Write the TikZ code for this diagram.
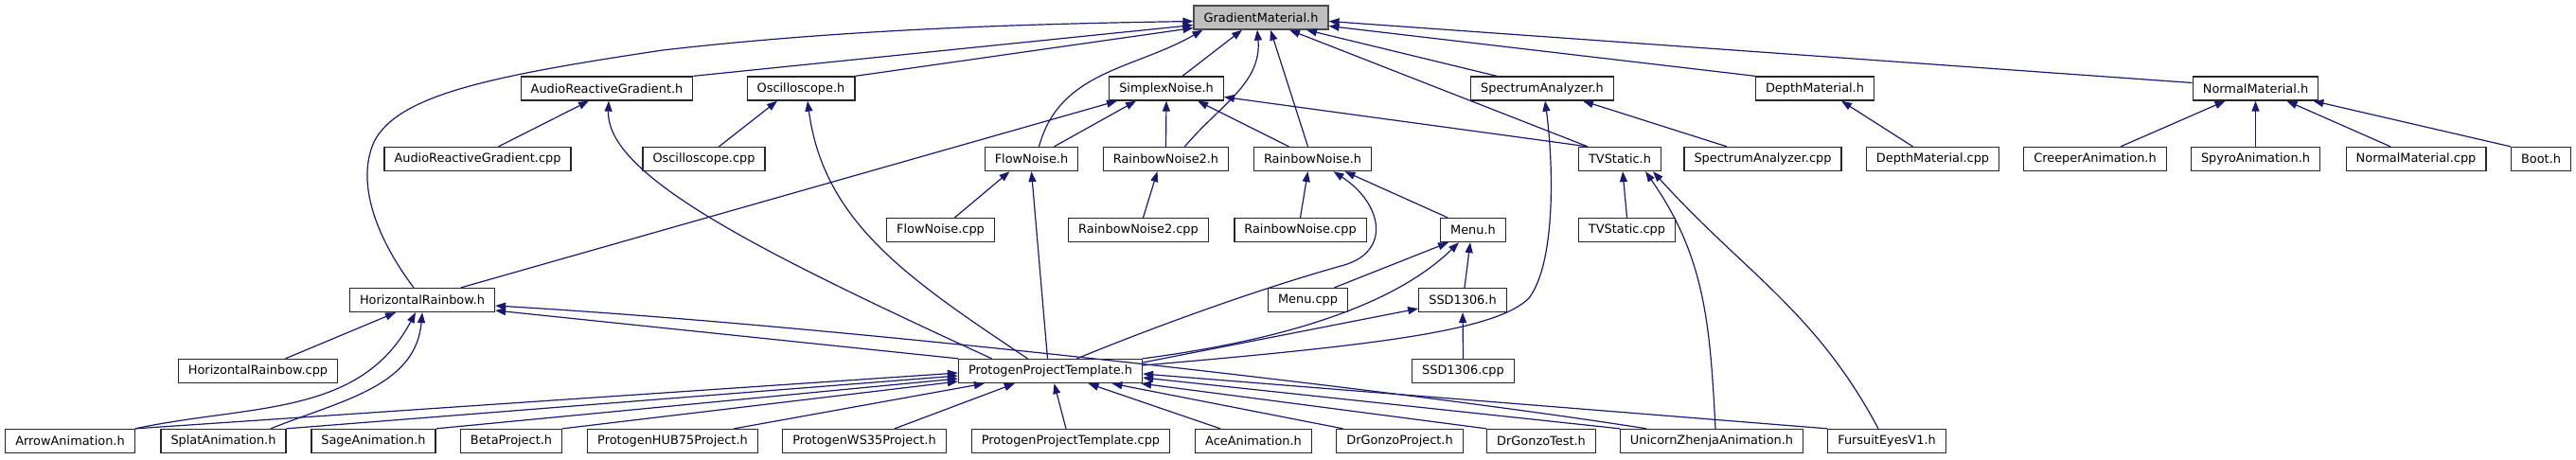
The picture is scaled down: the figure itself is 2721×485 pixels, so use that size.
\documentclass[tikz,border=0pt]{standalone}
\usepackage{fontspec}
\setmainfont{DejaVu Sans}
\usetikzlibrary{arrows.meta}

\definecolor{edgeblue}{HTML}{191970}
\definecolor{rootgray}{HTML}{BFBFBF}

\begin{document}
\begin{tikzpicture}[
    x=1pt, y=1pt,
    file/.style={draw=black!85, fill=white, line width=1.3pt, rectangle,
        minimum height=25pt, inner xsep=10.5pt, inner ysep=0pt,
        font=\fontsize{12.9}{15}\selectfont},
    root/.style={file, fill=rootgray, draw=black!70},
    dep/.style={draw=edgeblue, line width=1.2pt,
        -{Triangle[length=11pt,width=8pt]}},
]
\useasboundingbox (0,0) rectangle (2721,485);

% Root header
\node[root] (gm) at (1332,466.5) {GradientMaterial.h};

% Row 2
\node[file] (argh) at (641,391.5)    {AudioReactiveGradient.h};
\node[file] (osch) at (846,391.5)    {Oscilloscope.h};
\node[file] (sn)   at (1232,391.5)   {SimplexNoise.h};
\node[file] (sa)   at (1629,391.5)   {SpectrumAnalyzer.h};
\node[file] (dm)   at (1917,391.5)   {DepthMaterial.h};
\node[file] (nm)   at (2382.5,391.5) {NormalMaterial.h};

% Row 3
\node[file] (argcpp)  at (504.5,317)  {AudioReactiveGradient.cpp};
\node[file] (osccpp)  at (743.5,317)  {Oscilloscope.cpp};
\node[file] (fn)      at (1089.5,317) {FlowNoise.h};
\node[file] (rn2)     at (1231.5,317) {RainbowNoise2.h};
\node[file] (rn)      at (1386.5,317) {RainbowNoise.h};
\node[file] (tv)      at (1711,317)   {TVStatic.h};
\node[file] (sacpp)   at (1862,317)   {SpectrumAnalyzer.cpp};
\node[file] (dmcpp)   at (2041.5,317) {DepthMaterial.cpp};
\node[file] (creeper) at (2213,317)   {CreeperAnimation.h};
\node[file] (spyro)   at (2382.5,317) {SpyroAnimation.h};
\node[file] (nmcpp)   at (2552,317)   {NormalMaterial.cpp};
\node[file] (boot)    at (2684,317)   {Boot.h};

% Row 4
\node[file] (fncpp)  at (993.5,242)  {FlowNoise.cpp};
\node[file] (rn2cpp) at (1202.5,242) {RainbowNoise2.cpp};
\node[file] (rncpp)  at (1373.5,242) {RainbowNoise.cpp};
\node[file] (menu)   at (1556,242)   {Menu.h};
\node[file] (tvcpp)  at (1718.5,242) {TVStatic.cpp};

% Row 5
\node[file] (hr)      at (446,168)    {HorizontalRainbow.h};
\node[file] (menucpp) at (1381.5,168) {Menu.cpp};
\node[file] (ssd)     at (1545,168)   {SSD1306.h};

% Row 6
\node[file] (hrcpp)  at (272.5,93)  {HorizontalRainbow.cpp};
\node[file] (ppt)    at (1109.5,93) {ProtogenProjectTemplate.h};
\node[file] (ssdcpp) at (1545.5,93) {SSD1306.cpp};

% Row 7
\node[file] (arrow)   at (74,19)     {ArrowAnimation.h};
\node[file] (splat)   at (236,19)    {SplatAnimation.h};
\node[file] (sage)    at (394.5,19)  {SageAnimation.h};
\node[file] (beta)    at (540,19)    {BetaProject.h};
\node[file] (hub)     at (710.5,19)  {ProtogenHUB75Project.h};
\node[file] (ws)      at (913,19)    {ProtogenWS35Project.h};
\node[file] (pptcpp)  at (1131,19)   {ProtogenProjectTemplate.cpp};
\node[file] (ace)     at (1324,19)   {AceAnimation.h};
\node[file] (drgp)    at (1478.5,19) {DrGonzoProject.h};
\node[file] (drgt)    at (1628,19)   {DrGonzoTest.h};
\node[file] (uza)     at (1808,19)   {UnicornZhenjaAnimation.h};
\node[file] (fursuit) at (1993,19)   {FursuitEyesV1.h};

% Into GradientMaterial.h
\draw[dep] ([xshift=-9pt]hr.north) .. controls (400,230) and (375,290) .. (395,335)
    .. controls (420,385) and (520,405) .. (700,432)
    .. controls (900,455) and (1100,460) .. ([yshift=-4pt]gm.west);
\draw[dep] (argh.north east) -- ([yshift=-8pt]gm.west);
\draw[dep] (osch.north east) -- ([yshift=-11pt]gm.west);
\draw[dep] ([xshift=8pt]fn.north) to[out=75,in=-150] ([xshift=10pt]gm.south west);
\draw[dep] ([xshift=17pt]sn.north) -- ([xshift=-20pt]gm.south);
\draw[dep] ([xshift=20pt]rn2.north) to[out=50,in=-85] ([xshift=-4pt]gm.south);
\draw[dep] ([xshift=-5pt]rn.north) -- ([xshift=10pt]gm.south);
\draw[dep] ([xshift=-34pt]tv.north) -- ([xshift=30pt]gm.south);
\draw[dep] ([xshift=-48pt]sa.north) -- ([xshift=48pt]gm.south);
\draw[dep] (dm.north west) -- ([yshift=-9pt]gm.east);
\draw[dep] ([yshift=6pt]nm.west) -- ([yshift=-4pt]gm.east);

% Into row 2 headers
\draw[dep] ([xshift=22pt]argcpp.north) -- ([xshift=-19pt]argh.south);
\draw[dep] ([xshift=-62pt]ppt.north) .. controls (800,220) and (640,300) .. ([xshift=2pt]argh.south);
\draw[dep] ([xshift=16pt]osccpp.north) -- ([xshift=-25pt]osch.south);
\draw[dep] ([xshift=-24pt]ppt.north) .. controls (960,190) and (870,250) .. ([xshift=7pt]osch.south);
\draw[dep] ([xshift=24pt]fn.north) -- ([xshift=-32pt]sn.south);
\draw[dep] (rn2.north) -- (sn.south);
\draw[dep] ([xshift=-25pt]rn.north) -- ([xshift=33pt]sn.south);
\draw[dep] ([xshift=-34pt]tv.north) -- ([yshift=-9pt]sn.east);
\draw[dep] ([xshift=41pt]hr.north) -- ([xshift=-52pt]sn.south);
\draw[dep] ([xshift=-38pt]sacpp.north) -- ([xshift=43pt]sa.south);
\draw[dep] ([yshift=6pt]ppt.east) .. controls (1450,120) and (1580,135) .. (1615,170)
    .. controls (1645,210) and (1640,320) .. ([xshift=3pt]sa.south);
\draw[dep] ([xshift=-21pt]dmcpp.north) -- ([xshift=28pt]dm.south);
\draw[dep] ([xshift=27pt]creeper.north) -- ([xshift=-32pt]nm.south);
\draw[dep] (spyro.north) -- (nm.south);
\draw[dep] ([xshift=-27pt]nmcpp.north) -- ([xshift=33pt]nm.south);
\draw[dep] (boot.north west) -- ([xshift=-6pt]nm.south east);

% Into row 3 headers
\draw[dep] ([xshift=15pt]fncpp.north) -- ([xshift=-23pt]fn.south);
\draw[dep] ([xshift=-3pt]ppt.north) -- (fn.south);
\draw[dep] ([xshift=5pt]rn2cpp.north) -- ([xshift=-9pt]rn2.south);
\draw[dep] (rncpp.north) -- ([xshift=-5pt]rn.south);
\draw[dep] ([xshift=-27pt]menu.north) -- ([xshift=34pt]rn.south);
\draw[dep] ([xshift=28pt]ppt.north) .. controls (1220,140) and (1330,180) .. (1420,205)
    .. controls (1470,220) and (1460,270) .. ([xshift=22pt]rn.south);
\draw[dep] (tvcpp.north) -- ([xshift=3pt]tv.south);
\draw[dep] ([xshift=4pt]uza.north) to[out=93,in=-55] ([xshift=27pt]tv.south);
\draw[dep] ([xshift=-9pt]fursuit.north) to[out=118,in=-48] ([xshift=35pt]tv.south);

% Menu.h and SSD1306.h
\draw[dep] ([xshift=28pt]menucpp.north) -- ([xshift=-26pt]menu.south);
\draw[dep] ([xshift=2pt]ssd.north) -- ([xshift=-3pt]menu.south);
\draw[dep] (ppt.north east) .. controls (1350,125) and (1470,160) .. ([xshift=-15pt]menu.south);
\draw[dep] ([yshift=9pt]ppt.east) -- ([yshift=-9pt]ssd.west);
\draw[dep] (ssdcpp.north) -- (ssd.south);

% Into HorizontalRainbow.h
\draw[dep] ([xshift=29pt]hrcpp.north) -- ([xshift=-28pt]hr.south);
\draw[dep] (arrow.north east) to[out=12,in=-118] ([xshift=-7pt]hr.south);
\draw[dep] ([xshift=50pt]splat.north) to[out=22,in=-95] (hr.south);
\draw[dep] (ppt.north west) -- ([yshift=-11pt]hr.east);
\draw[dep] ([xshift=-69pt]uza.north) .. controls (1500,70) and (900,140) .. ([yshift=-6pt]hr.east);

% Into ProtogenProjectTemplate.h
\draw[dep] (arrow.north east) -- ([yshift=-2pt]ppt.west);
\draw[dep] (splat.north east) -- ([yshift=-5pt]ppt.west);
\draw[dep] (sage.north east) -- ([yshift=-8pt]ppt.west);
\draw[dep] (beta.north east) -- ([yshift=-11pt]ppt.west);
\draw[dep] ([xshift=65pt]hub.north) -- ([xshift=28pt]ppt.south west);
\draw[dep] ([xshift=32pt]ws.north) -- ([xshift=60pt]ppt.south west);
\draw[dep] ([xshift=-5pt]pptcpp.north) -- ([xshift=4pt]ppt.south);
\draw[dep] ([xshift=-35pt]ace.north) -- ([xshift=40pt]ppt.south);
\draw[dep] ([xshift=-60pt]drgp.north) -- ([xshift=65pt]ppt.south);
\draw[dep] (drgt.north west) -- ([xshift=-2pt]ppt.south east);
\draw[dep] (uza.north west) -- ([yshift=-7pt]ppt.east);
\draw[dep] (fursuit.north west) -- ([yshift=-3pt]ppt.east);

\end{tikzpicture}
\end{document}
